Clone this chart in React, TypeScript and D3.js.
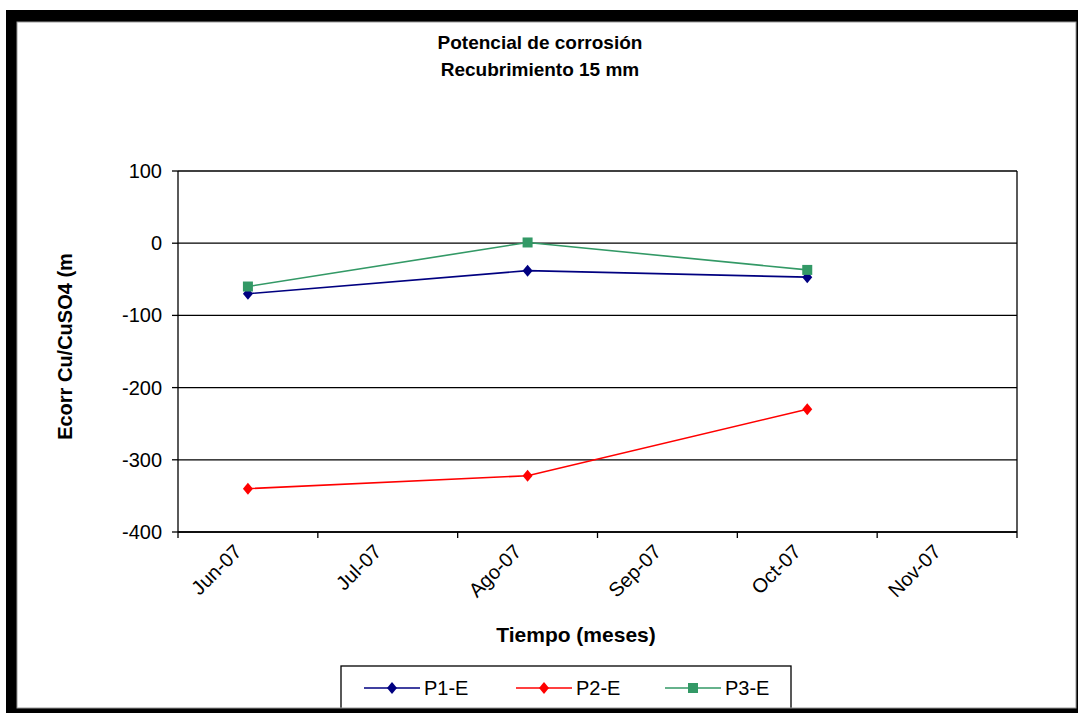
import React from "react";
import * as d3 from "d3";

const categories = ["Jun-07", "Jul-07", "Ago-07", "Sep-07", "Oct-07", "Nov-07"];
const p1Values: (number | null)[] = [-70, null, -38, null, -47, null];
const p2Values: (number | null)[] = [-340, null, -322, null, -230, null];
const p3Values: (number | null)[] = [-60, null, 1, null, -37, null];
const yTicks = [100, 0, -100, -200, -300, -400];
const seriesNames = ["P1-E", "P2-E", "P3-E"];

const W = 1079;
const H = 713;
const FONT = "'Liberation Sans', Arial, sans-serif";

export default function App() {
  const left = 178, right = 1017, top = 171, bottom = 532;
  const x = d3.scaleBand<string>().domain(categories).range([left, right]).padding(0);
  const y = d3.scaleLinear().domain([-400, 100]).range([bottom, top]);
  const cx = (c: string) => (x(c) as number) + x.bandwidth() / 2;

  const series = [
    { name: seriesNames[0], values: p1Values, color: "#000080", marker: "diamond" },
    { name: seriesNames[1], values: p2Values, color: "#FF0000", marker: "diamond" },
    { name: seriesNames[2], values: p3Values, color: "#339966", marker: "square" },
  ];

  const line = d3
    .line<{ c: string; v: number }>()
    .x((d) => cx(d.c))
    .y((d) => y(d.v));

  const marker = (kind: string, px: number, py: number, color: string, key: string) =>
    kind === "square" ? (
      <rect key={key} x={px - 5} y={py - 5} width={10} height={10} fill={color} />
    ) : (
      <path
        key={key}
        d={`M${px},${py - 6}L${px + 5},${py}L${px},${py + 6}L${px - 5},${py}Z`}
        fill={color}
      />
    );

  const boundaries = [...categories.map((c) => x(c) as number), right];
  const legendX = [364, 516, 665];

  return (
    <svg
      width={W}
      height={H}
      style={{ position: "absolute", left: 0, top: 0, background: "#fff" }}
      fontFamily={FONT}
    >
      <rect x={0} y={0} width={W} height={H} fill="#fff" />
      {/* title */}
      <text x={540} y={49} textAnchor="middle" fontSize={19} fontWeight="bold">
        Potencial de corrosión
      </text>
      <text x={540} y={76} textAnchor="middle" fontSize={19} fontWeight="bold">
        Recubrimiento 15 mm
      </text>

      {/* gridlines */}
      {yTicks.map((t) => (
        <line key={"g" + t} x1={left} x2={right} y1={y(t)} y2={y(t)} stroke="#000" strokeWidth={1.3} />
      ))}
      <line x1={right} x2={right} y1={top} y2={bottom} stroke="#000" strokeWidth={1.3} />
      {/* y axis */}
      <line x1={left} x2={left} y1={top} y2={bottom} stroke="#000" strokeWidth={1.3} />
      {yTicks.map((t) => (
        <g key={"yt" + t}>
          <line x1={left - 6} x2={left} y1={y(t)} y2={y(t)} stroke="#000" strokeWidth={1.3} />
          <text x={162} y={y(t)} dy="0.35em" textAnchor="end" fontSize={20}>
            {t}
          </text>
        </g>
      ))}
      {/* x axis */}
      <line x1={left} x2={right} y1={bottom} y2={bottom} stroke="#000" strokeWidth={1.3} />
      {boundaries.map((b, i) => (
        <line key={"xt" + i} x1={b} x2={b} y1={bottom} y2={bottom + 6} stroke="#000" strokeWidth={1.3} />
      ))}
      {categories.map((c) => (
        <text
          key={"xl" + c}
          transform={`translate(${cx(c) - 10},${bottom + 16}) rotate(-45)`}
          textAnchor="end"
          dy="0.35em"
          fontSize={20}
        >
          {c}
        </text>
      ))}

      {/* axis titles */}
      <text
        transform={`translate(72,${(top + bottom) / 2 - 5}) rotate(-90)`}
        textAnchor="middle"
        fontSize={20}
        fontWeight="bold"
      >
        Ecorr Cu/CuSO4 (m
      </text>
      <text x={576} y={642} textAnchor="middle" fontSize={21} fontWeight="bold">
        Tiempo (meses)
      </text>

      {/* series */}
      {series.map((s) => {
        const pts = categories
          .map((c, i) => ({ c, v: s.values[i] }))
          .filter((d) => d.v !== null) as { c: string; v: number }[];
        return (
          <g key={s.name}>
            <path d={line(pts) || ""} fill="none" stroke={s.color} strokeWidth={1.6} />
            {pts.map((d) => marker(s.marker, cx(d.c), y(d.v), s.color, s.name + d.c))}
          </g>
        );
      })}

      {/* legend */}
      <rect x={341} y={666} width={450} height={50} fill="#fff" stroke="#000" strokeWidth={1.3} />
      {series.map((s, i) => (
        <g key={"lg" + s.name}>
          <line x1={legendX[i]} x2={legendX[i] + 56} y1={688} y2={688} stroke={s.color} strokeWidth={1.6} />
          {marker(s.marker, legendX[i] + 28, 688, s.color, "lm" + s.name)}
          <text x={legendX[i] + 60} y={688} dy="0.35em" fontSize={20}>
            {s.name}
          </text>
        </g>
      ))}

      {/* outer frame */}
      <path
        d={`M6,10H1078V713H6Z M17,22V708H1076V22Z`}
        fill="#000"
        fillRule="evenodd"
      />
      <rect x={17} y={22} width={1059} height={686} fill="none" stroke="#999" strokeWidth={1} />
    </svg>
  );
}
